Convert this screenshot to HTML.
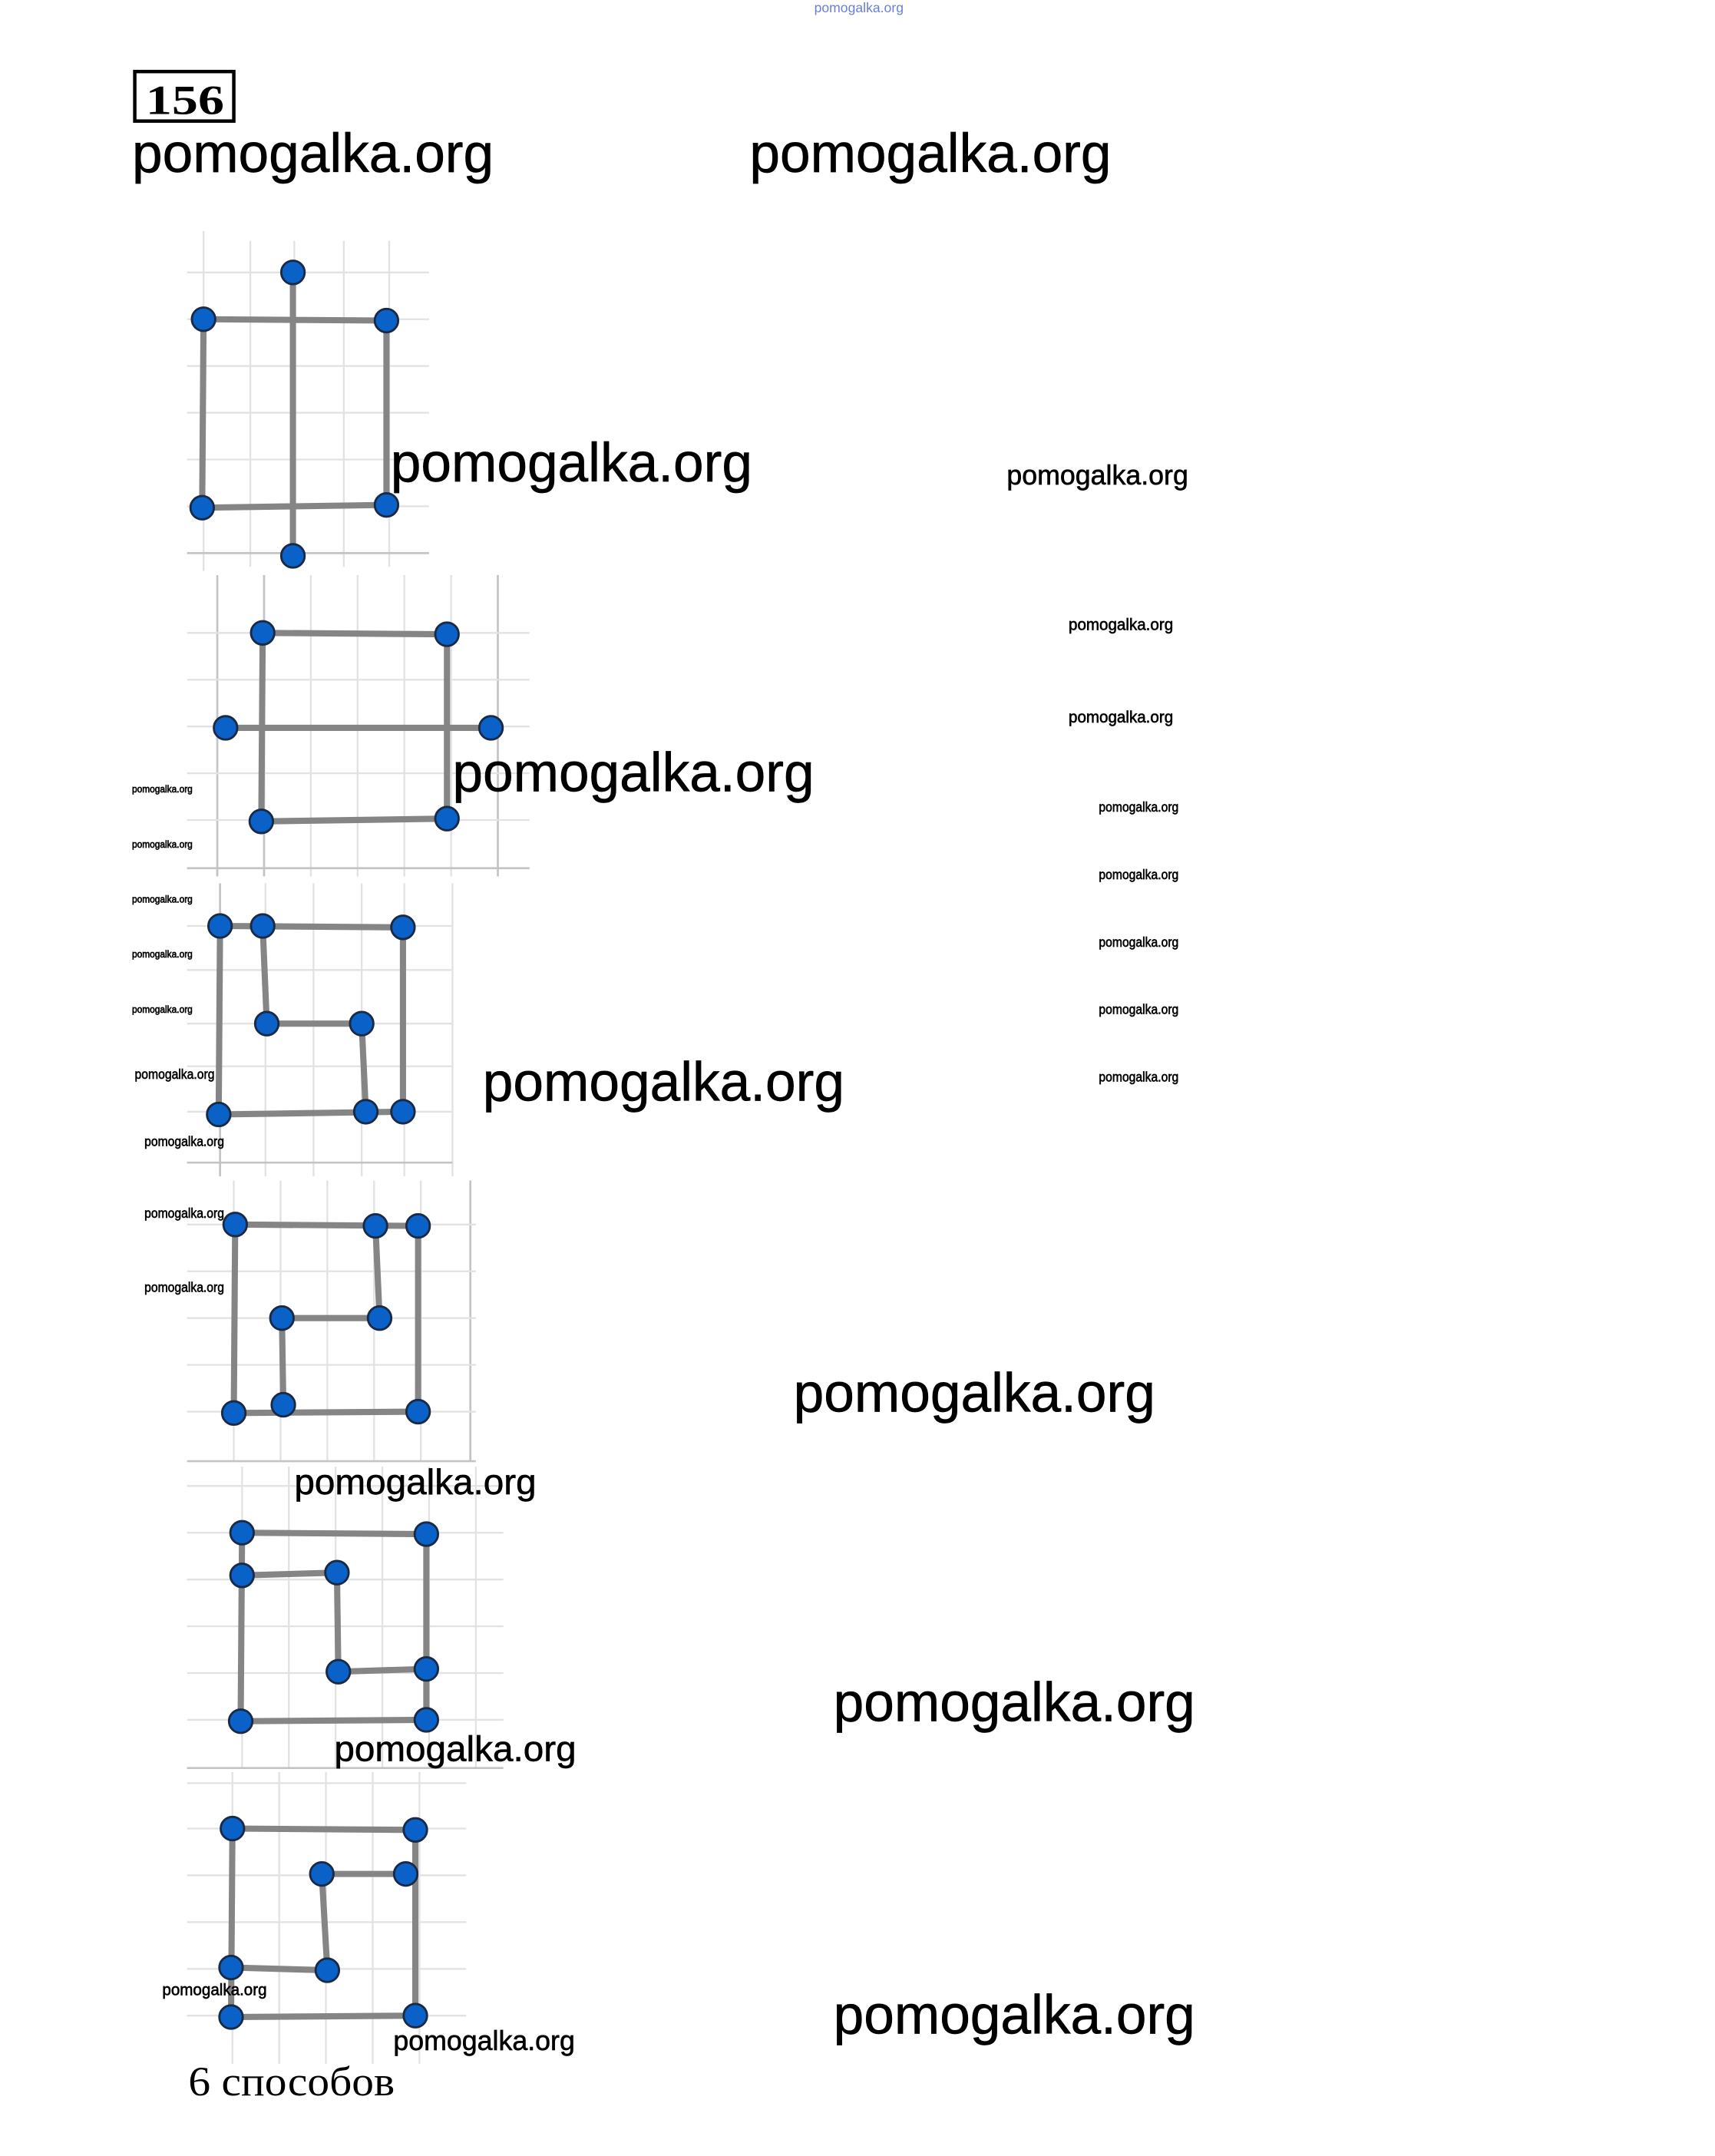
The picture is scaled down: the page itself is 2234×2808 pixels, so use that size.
<!DOCTYPE html>
<html><head><meta charset="utf-8"><style>
html,body{margin:0;padding:0;background:#fff;}
svg{display:block;}
.w{font-family:"Liberation Sans",sans-serif;fill:#000;stroke:#000;stroke-width:0.35;}
.g{stroke:#e2e2e2;stroke-width:1.3;}
.gd{stroke:#c4c4c4;stroke-width:1.5;}
.l{stroke:#858585;stroke-width:4.5;stroke-linecap:round;fill:none;}
.d{fill:#0a62c8;stroke:#1a2a44;stroke-width:1.6;}
</style></head><body>
<svg width="2234" height="2808" viewBox="0 0 1247 1567" preserveAspectRatio="none" xmlns="http://www.w3.org/2000/svg">
<rect width="1247" height="1567" fill="#fff"/>
<text x="592" y="9" font-size="10" textLength="65" lengthAdjust="spacingAndGlyphs" fill="#6a7fd6" font-family="Liberation Sans,sans-serif">pomogalka.org</text>
<rect x="98" y="52" width="72" height="36" fill="none" stroke="#000" stroke-width="2.5"/>
<text x="106" y="83" font-size="30" font-weight="bold" font-family="Liberation Serif,serif" textLength="57" lengthAdjust="spacingAndGlyphs">156</text>

<g>
<line class="g" x1="148" y1="168" x2="148" y2="415"/><line class="g" x1="182" y1="175" x2="182" y2="412"/><line class="g" x1="214" y1="175" x2="214" y2="412"/><line class="g" x1="250" y1="175" x2="250" y2="412"/><line class="g" x1="283" y1="175" x2="283" y2="412"/>
<line class="g" x1="136" y1="198" x2="312" y2="198"/><line class="g" x1="136" y1="232" x2="312" y2="232"/><line class="g" x1="136" y1="266" x2="312" y2="266"/><line class="g" x1="136" y1="300" x2="312" y2="300"/><line class="g" x1="136" y1="334" x2="312" y2="334"/><line class="g" x1="136" y1="368" x2="312" y2="368"/><line class="gd" x1="136" y1="402" x2="312" y2="402"/>
<path class="l" d="M148 232L281 233M148 232L147 369M281 233L281 367M147 369L281 367M213 198L213 404"/>
<circle class="d" cx="213" cy="198" r="8.5"/><circle class="d" cx="148" cy="232" r="8.5"/><circle class="d" cx="281" cy="233" r="8.5"/><circle class="d" cx="147" cy="369" r="8.5"/><circle class="d" cx="281" cy="367" r="8.5"/><circle class="d" cx="213" cy="404" r="8.5"/>
</g>

<g>
<line class="gd" x1="158" y1="418" x2="158" y2="637"/><line class="gd" x1="192" y1="418" x2="192" y2="637"/><line class="g" x1="226" y1="418" x2="226" y2="637"/><line class="g" x1="260" y1="418" x2="260" y2="637"/><line class="g" x1="294" y1="418" x2="294" y2="637"/><line class="g" x1="328" y1="418" x2="328" y2="637"/><line class="gd" x1="362" y1="418" x2="362" y2="637"/>
<line class="g" x1="136" y1="460" x2="385" y2="460"/><line class="g" x1="136" y1="494" x2="385" y2="494"/><line class="g" x1="136" y1="528" x2="385" y2="528"/><line class="g" x1="136" y1="562" x2="385" y2="562"/><line class="g" x1="136" y1="596" x2="385" y2="596"/><line class="gd" x1="136" y1="631" x2="385" y2="631"/>
<path class="l" d="M191 460L325 461M191 460L190 597M325 461L325 595M190 597L325 595M164 529L357 529"/>
<circle class="d" cx="191" cy="460" r="8.5"/><circle class="d" cx="325" cy="461" r="8.5"/><circle class="d" cx="164" cy="529" r="8.5"/><circle class="d" cx="357" cy="529" r="8.5"/><circle class="d" cx="190" cy="597" r="8.5"/><circle class="d" cx="325" cy="595" r="8.5"/>
</g>

<g>
<line class="gd" x1="160" y1="642" x2="160" y2="855"/><line class="g" x1="193" y1="642" x2="193" y2="855"/><line class="g" x1="228" y1="642" x2="228" y2="855"/><line class="g" x1="263" y1="642" x2="263" y2="855"/><line class="g" x1="294" y1="642" x2="294" y2="855"/><line class="g" x1="329" y1="642" x2="329" y2="855"/>
<line class="g" x1="136" y1="673" x2="329" y2="673"/><line class="g" x1="136" y1="705" x2="329" y2="705"/><line class="g" x1="136" y1="744" x2="329" y2="744"/><line class="g" x1="136" y1="775" x2="329" y2="775"/><line class="g" x1="136" y1="808" x2="329" y2="808"/><line class="gd" x1="136" y1="845" x2="329" y2="845"/>
<path class="l" d="M160 673L293 674M160 673L159 810M191 673L194 744M194 744L263 744M263 744L266 808M159 810L293 808M293 674L293 808"/>
<circle class="d" cx="160" cy="673" r="8.5"/><circle class="d" cx="191" cy="673" r="8.5"/><circle class="d" cx="293" cy="674" r="8.5"/><circle class="d" cx="194" cy="744" r="8.5"/><circle class="d" cx="263" cy="744" r="8.5"/><circle class="d" cx="159" cy="810" r="8.5"/><circle class="d" cx="266" cy="808" r="8.5"/><circle class="d" cx="293" cy="808" r="8.5"/>
</g>

<g>
<line class="g" x1="170" y1="858" x2="170" y2="1062"/><line class="g" x1="204" y1="858" x2="204" y2="1062"/><line class="g" x1="238" y1="858" x2="238" y2="1062"/><line class="g" x1="272" y1="858" x2="272" y2="1062"/><line class="g" x1="306" y1="858" x2="306" y2="1062"/><line class="gd" x1="342" y1="858" x2="342" y2="1062"/>
<line class="g" x1="136" y1="890" x2="346" y2="890"/><line class="g" x1="136" y1="924" x2="346" y2="924"/><line class="g" x1="136" y1="958" x2="346" y2="958"/><line class="g" x1="136" y1="992" x2="346" y2="992"/><line class="g" x1="136" y1="1026" x2="346" y2="1026"/><line class="gd" x1="136" y1="1062" x2="346" y2="1062"/>
<path class="l" d="M171 890L304 891M171 890L170 1027M304 891L304 1026M273 891L276 958M205 958L276 958M205 958L206 1021M170 1027L304 1026"/>
<circle class="d" cx="171" cy="890" r="8.5"/><circle class="d" cx="273" cy="891" r="8.5"/><circle class="d" cx="304" cy="891" r="8.5"/><circle class="d" cx="205" cy="958" r="8.5"/><circle class="d" cx="276" cy="958" r="8.5"/><circle class="d" cx="170" cy="1027" r="8.5"/><circle class="d" cx="206" cy="1021" r="8.5"/><circle class="d" cx="304" cy="1026" r="8.5"/>
</g>

<g>
<line class="g" x1="176" y1="1066" x2="176" y2="1285"/><line class="g" x1="210" y1="1066" x2="210" y2="1285"/><line class="g" x1="244" y1="1066" x2="244" y2="1285"/><line class="g" x1="278" y1="1066" x2="278" y2="1285"/><line class="g" x1="312" y1="1066" x2="312" y2="1285"/><line class="g" x1="346" y1="1066" x2="346" y2="1285"/>
<line class="g" x1="136" y1="1080" x2="366" y2="1080"/><line class="g" x1="136" y1="1114" x2="366" y2="1114"/><line class="g" x1="136" y1="1148" x2="366" y2="1148"/><line class="g" x1="136" y1="1182" x2="366" y2="1182"/><line class="g" x1="136" y1="1216" x2="366" y2="1216"/><line class="g" x1="136" y1="1250" x2="366" y2="1250"/><line class="gd" x1="136" y1="1285" x2="366" y2="1285"/>
<path class="l" d="M176 1114L310 1115M176 1145L245 1143M245 1143L246 1215M246 1215L310 1213M176 1114L175 1251M310 1115L310 1250M175 1251L310 1250"/>
<circle class="d" cx="176" cy="1114" r="8.5"/><circle class="d" cx="310" cy="1115" r="8.5"/><circle class="d" cx="176" cy="1145" r="8.5"/><circle class="d" cx="245" cy="1143" r="8.5"/><circle class="d" cx="246" cy="1215" r="8.5"/><circle class="d" cx="310" cy="1213" r="8.5"/><circle class="d" cx="175" cy="1251" r="8.5"/><circle class="d" cx="310" cy="1250" r="8.5"/>
</g>

<g>
<line class="g" x1="169" y1="1288" x2="169" y2="1500"/><line class="g" x1="203" y1="1288" x2="203" y2="1500"/><line class="g" x1="237" y1="1288" x2="237" y2="1500"/><line class="g" x1="271" y1="1288" x2="271" y2="1500"/><line class="g" x1="305" y1="1288" x2="305" y2="1500"/>
<line class="g" x1="136" y1="1296" x2="339" y2="1296"/><line class="g" x1="136" y1="1329" x2="339" y2="1329"/><line class="g" x1="136" y1="1363" x2="339" y2="1363"/><line class="g" x1="136" y1="1397" x2="339" y2="1397"/><line class="g" x1="136" y1="1431" x2="339" y2="1431"/><line class="g" x1="136" y1="1465" x2="339" y2="1465"/>
<path class="l" d="M169 1329L302 1330M169 1329L168 1466M302 1330L302 1465M168 1466L302 1465M234 1362L295 1362M234 1362L238 1432M168 1430L238 1432"/>
<circle class="d" cx="169" cy="1329" r="8.5"/><circle class="d" cx="302" cy="1330" r="8.5"/><circle class="d" cx="234" cy="1362" r="8.5"/><circle class="d" cx="295" cy="1362" r="8.5"/><circle class="d" cx="168" cy="1430" r="8.5"/><circle class="d" cx="238" cy="1432" r="8.5"/><circle class="d" cx="168" cy="1466" r="8.5"/><circle class="d" cx="302" cy="1465" r="8.5"/>
</g>

<g>
<text class="w" x="96" y="125" font-size="40" textLength="263" lengthAdjust="spacingAndGlyphs">pomogalka.org</text>
<text class="w" x="545" y="125" font-size="40" textLength="263" lengthAdjust="spacingAndGlyphs">pomogalka.org</text>
<text class="w" x="284" y="350" font-size="40" textLength="263" lengthAdjust="spacingAndGlyphs">pomogalka.org</text>
<text class="w" x="732" y="352" font-size="20" textLength="132" lengthAdjust="spacingAndGlyphs">pomogalka.org</text>
<text class="w" x="777" y="458" font-size="12" textLength="76" lengthAdjust="spacingAndGlyphs">pomogalka.org</text>
<text class="w" x="777" y="525" font-size="12" textLength="76" lengthAdjust="spacingAndGlyphs">pomogalka.org</text>
<text class="w" x="96" y="576" font-size="7" textLength="44" lengthAdjust="spacingAndGlyphs">pomogalka.org</text>
<text class="w" x="96" y="616" font-size="7" textLength="44" lengthAdjust="spacingAndGlyphs">pomogalka.org</text>
<text class="w" x="96" y="656" font-size="7" textLength="44" lengthAdjust="spacingAndGlyphs">pomogalka.org</text>
<text class="w" x="96" y="696" font-size="7" textLength="44" lengthAdjust="spacingAndGlyphs">pomogalka.org</text>
<text class="w" x="96" y="736" font-size="7" textLength="44" lengthAdjust="spacingAndGlyphs">pomogalka.org</text>
<text class="w" x="329" y="575" font-size="40" textLength="263" lengthAdjust="spacingAndGlyphs">pomogalka.org</text>
<text class="w" x="799" y="590" font-size="10" textLength="58" lengthAdjust="spacingAndGlyphs">pomogalka.org</text>
<text class="w" x="799" y="639" font-size="10" textLength="58" lengthAdjust="spacingAndGlyphs">pomogalka.org</text>
<text class="w" x="799" y="688" font-size="10" textLength="58" lengthAdjust="spacingAndGlyphs">pomogalka.org</text>
<text class="w" x="799" y="737" font-size="10" textLength="58" lengthAdjust="spacingAndGlyphs">pomogalka.org</text>
<text class="w" x="799" y="786" font-size="10" textLength="58" lengthAdjust="spacingAndGlyphs">pomogalka.org</text>
<text class="w" x="98" y="784" font-size="10" textLength="58" lengthAdjust="spacingAndGlyphs">pomogalka.org</text>
<text class="w" x="351" y="800" font-size="40" textLength="263" lengthAdjust="spacingAndGlyphs">pomogalka.org</text>
<text class="w" x="105" y="833" font-size="10" textLength="58" lengthAdjust="spacingAndGlyphs">pomogalka.org</text>
<text class="w" x="105" y="885" font-size="10" textLength="58" lengthAdjust="spacingAndGlyphs">pomogalka.org</text>
<text class="w" x="105" y="939" font-size="10" textLength="58" lengthAdjust="spacingAndGlyphs">pomogalka.org</text>
<text class="w" x="577" y="1026" font-size="40" textLength="263" lengthAdjust="spacingAndGlyphs">pomogalka.org</text>
<text class="w" x="214" y="1086" font-size="26" textLength="176" lengthAdjust="spacingAndGlyphs">pomogalka.org</text>
<text class="w" x="606" y="1251" font-size="40" textLength="263" lengthAdjust="spacingAndGlyphs">pomogalka.org</text>
<text class="w" x="243" y="1280" font-size="26" textLength="176" lengthAdjust="spacingAndGlyphs">pomogalka.org</text>
<text class="w" x="118" y="1450" font-size="12" textLength="76" lengthAdjust="spacingAndGlyphs">pomogalka.org</text>
<text class="w" x="286" y="1490" font-size="20" textLength="132" lengthAdjust="spacingAndGlyphs">pomogalka.org</text>
<text class="w" x="606" y="1478" font-size="40" textLength="263" lengthAdjust="spacingAndGlyphs">pomogalka.org</text>
</g>
<text x="137" y="1523" font-size="30" font-family="Liberation Serif,serif" textLength="150" lengthAdjust="spacingAndGlyphs">6 способов</text>
</svg>
</body></html>
